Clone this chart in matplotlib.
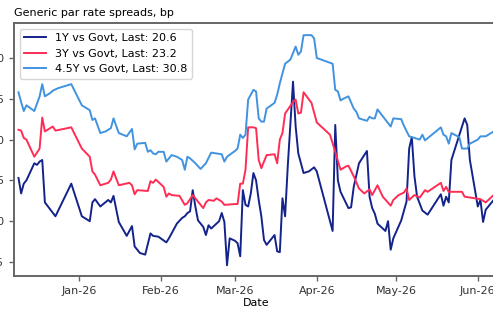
import pandas as pd
import matplotlib
matplotlib.use("Agg")
import matplotlib.pyplot as plt
import matplotlib.dates as mdates

# Data: day offsets from 2026-01-01 and spread values (bp)
BASE = pd.Timestamp("2026-01-01")

days_1y = [-23, -22, -21, -20, -17, -16, -15, -14, -13, -9, -3, 1, 4, 5, 6, 8, 11, 12, 13, 15,
           18, 20, 21, 23, 25, 27, 28, 30, 33, 34, 36, 37, 39, 40, 41, 42, 43, 44, 45, 47,
           48, 49, 50, 52, 53, 54, 55, 56, 57, 59, 60, 61, 62, 63, 64, 65, 66, 67, 68, 69,
           70, 71, 74, 75, 76, 77, 78, 79, 81, 82, 83, 85, 87, 89, 90, 96, 97, 98, 99, 102,
           103, 104, 106, 109, 110, 111, 112, 113, 115, 116, 117, 118, 119, 122, 124, 125, 126, 127, 128, 130,
           132, 137, 138, 139, 140, 141, 146, 147, 148, 151, 152, 153, 154, 157]
vals_1y = [25.3, 23.4, 24.6, 25.0, 27.1, 26.9, 27.3, 27.5, 22.3, 20.6, 24.6, 20.6, 20.0, 22.3, 22.7, 21.8, 22.6, 22.3, 23.1, 19.9,
           18.2, 19.4, 16.9, 16.1, 15.9, 18.5, 18.2, 18.1, 17.4, 17.9, 19.1, 19.7, 20.4, 20.6, 21.0, 21.2, 23.8, 21.8, 20.1, 19.3,
           18.3, 19.5, 19.1, 19.7, 20.0, 21.0, 19.9, 14.6, 17.9, 17.6, 17.3, 15.7, 23.8, 22.0, 21.8, 23.4, 25.9, 25.0, 22.6, 20.6,
           17.7, 17.1, 18.3, 16.3, 16.2, 22.8, 20.6, 26.7, 37.1, 31.6, 28.3, 25.9, 26.1, 26.6, 26.1, 18.8, 31.8, 25.0, 23.6, 21.6,
           21.7, 24.2, 27.1, 28.6, 23.0, 21.6, 20.9, 19.7, 19.1, 18.8, 20.0, 16.5, 17.9, 20.1, 22.4, 28.9, 30.3, 25.5, 23.0, 21.3,
           20.8, 23.3, 21.9, 23.0, 22.3, 27.5, 32.6, 31.8, 27.5, 21.8, 22.6, 19.9, 21.4, 22.6]

days_3y = [-23, -22, -21, -20, -17, -15, -14, -13, -11, -10, -9, -3, 1, 4, 5, 6, 8, 11, 12, 13,
           15, 19, 20, 21, 22, 26, 27, 28, 29, 32, 33, 34, 35, 38, 40, 41, 43, 46, 47, 48,
           49, 51, 52, 54, 55, 59, 60, 61, 62, 63, 64, 66, 67, 68, 69, 71, 74, 75, 76, 77,
           78, 81, 82, 83, 84, 85, 88, 90, 95, 97, 99, 101, 102, 104, 106, 108, 110, 111, 113, 115,
           118, 119, 121, 123, 124, 125, 127, 129, 131, 132, 137, 138, 139, 140, 145, 146, 150, 152, 154, 157]
vals_3y = [31.2, 31.1, 30.2, 30.0, 27.9, 28.9, 32.7, 31.0, 31.4, 31.6, 31.1, 31.5, 28.9, 27.9, 26.1, 25.7, 24.4, 24.7, 25.1, 26.1,
           24.4, 24.7, 24.4, 23.3, 23.8, 23.7, 24.9, 24.7, 25.1, 24.2, 23.0, 23.4, 23.2, 23.1, 22.0, 22.2, 23.2, 22.0, 21.6, 22.3,
           22.6, 22.5, 22.8, 22.4, 22.0, 22.1, 22.1, 24.6, 24.6, 26.3, 31.5, 31.5, 31.4, 27.5, 26.5, 28.1, 28.2, 27.1, 30.0, 30.8,
           33.2, 34.6, 34.9, 33.2, 33.3, 35.8, 34.5, 32.1, 30.6, 28.5, 26.3, 26.7, 26.8, 25.5, 24.0, 23.4, 23.9, 23.2, 24.4, 23.0,
           21.9, 22.6, 23.2, 23.5, 24.0, 22.6, 23.2, 22.9, 23.8, 23.6, 24.7, 23.7, 24.2, 23.6, 23.6, 23.0, 22.8, 22.7, 22.3, 23.2]

days_45y = [-23, -22, -21, -20, -17, -15, -14, -13, -11, -10, -8, -3, 1, 4, 5, 6, 8, 10, 12, 13,
            15, 18, 20, 21, 22, 25, 26, 27, 28, 29, 30, 32, 33, 35, 37, 39, 40, 41, 42, 44,
            46, 48, 50, 52, 54, 55, 56, 59, 60, 61, 62, 63, 64, 66, 67, 68, 69, 70, 71, 74,
            75, 76, 78, 80, 82, 83, 84, 85, 88, 89, 90, 96, 97, 98, 99, 100, 102, 104, 105, 106,
            109, 110, 111, 112, 113, 118, 119, 122, 123, 125, 129, 130, 131, 137, 138, 139, 140, 141, 144, 145,
            147, 148, 151, 152, 154, 157]
vals_45y = [35.8, 34.6, 33.5, 34.2, 33.5, 35.3, 36.8, 35.3, 35.7, 36.0, 36.3, 36.8, 34.2, 33.6, 32.4, 32.6, 30.8, 31.0, 31.4, 32.6,
            30.8, 30.4, 31.3, 28.8, 29.5, 29.6, 28.5, 28.7, 28.3, 28.2, 28.5, 28.5, 27.3, 28.1, 27.9, 27.5, 26.3, 27.9, 27.7, 27.1,
            26.4, 27.1, 28.4, 28.3, 28.2, 27.3, 27.9, 28.6, 28.9, 30.6, 30.2, 30.6, 34.9, 36.1, 35.9, 32.6, 32.2, 32.2, 33.8, 34.5,
            35.5, 36.9, 39.3, 39.8, 41.4, 40.4, 40.8, 42.8, 42.8, 42.4, 40.0, 39.3, 36.1, 35.9, 34.8, 35.0, 35.3, 33.8, 33.4, 32.6,
            32.3, 32.8, 32.6, 32.6, 33.7, 31.6, 32.6, 32.5, 31.7, 30.4, 30.0, 30.6, 29.9, 31.5, 30.6, 30.4, 29.5, 30.8, 30.3, 28.9,
            28.9, 29.5, 30.0, 30.4, 30.4, 31.0]

labels = ["1Y vs Govt, Last: 20.6", "3Y vs Govt, Last: 23.2", "4.5Y vs Govt, Last: 30.8"]
colors = ["#14238a", "#ff2d55", "#4193e0"]


def to_dates(days):
    return BASE + pd.to_timedelta(days, unit="D")


fig = plt.figure(figsize=(4.93, 3.13), dpi=100)
ax = fig.add_axes([14 / 493, 37 / 313, 1.012 - 14 / 493, 253 / 313])

for days, vals, lab, col in zip([days_1y, days_3y, days_45y], [vals_1y, vals_3y, vals_45y], labels, colors):
    ax.plot(to_dates(days), vals, color=col, lw=1.4, label=lab)

ax.set_xlim(BASE + pd.Timedelta(days=-24.7), BASE + pd.Timedelta(days=159.0))
ax.set_ylim(13.28, 44.29)
ax.set_yticks([15, 20, 25, 30, 35, 40])
ax.xaxis.set_major_locator(mdates.MonthLocator())
ax.xaxis.set_major_formatter(mdates.DateFormatter("%b-%y"))

for s in ax.spines.values():
    s.set_color("#666666")
    s.set_linewidth(1.4)
ax.tick_params(colors="#333333", labelsize=8, length=3.5, width=1.0)
ax.tick_params(axis="both", color="#666666")

ax.set_xlabel("Date", fontsize=8, labelpad=2)
ax.set_title("Generic par rate spreads, bp", fontsize=8, loc="left", pad=5)
ax.legend(loc="upper left", fontsize=8, frameon=True, handlelength=2.0, borderaxespad=0.5)

fig.savefig("out.png", dpi=100)
